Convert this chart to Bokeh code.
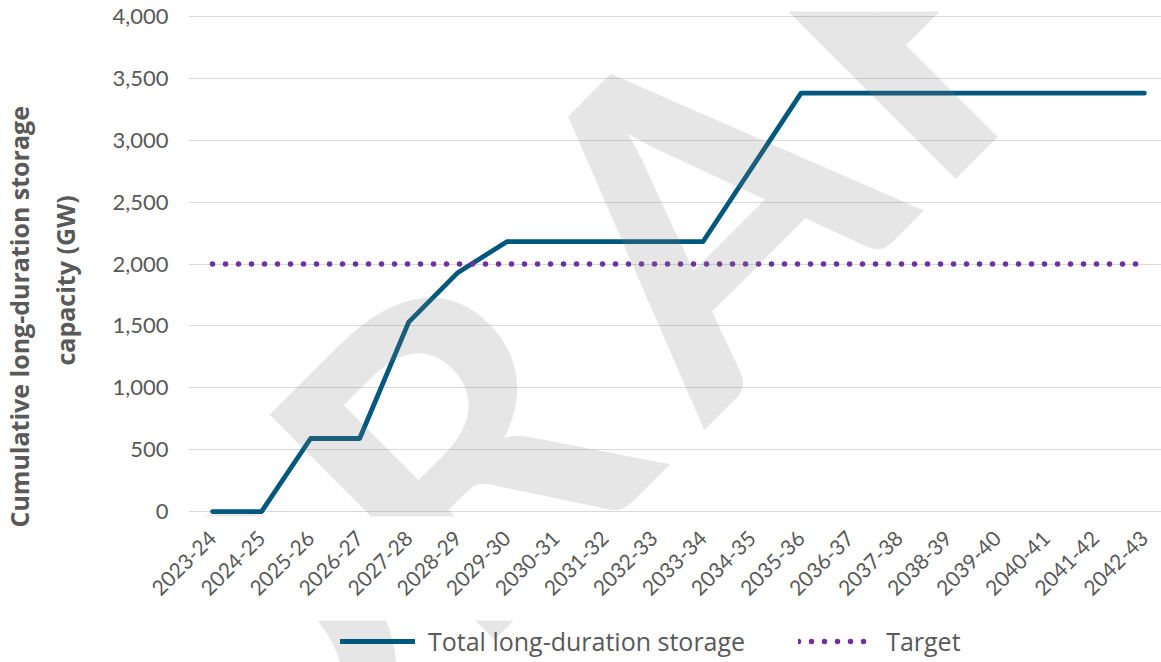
from math import pi, cos, sin
from bokeh.plotting import figure
from bokeh.layouts import column
from bokeh.models import Range1d, FixedTicker, Legend, LegendItem, Label, Title, NumeralTickFormatter
from bokeh.embed import file_html
from bokeh.resources import INLINE

categories = ["2023-24", "2024-25", "2025-26", "2026-27", "2027-28", "2028-29", "2029-30",
              "2030-31", "2031-32", "2032-33", "2033-34", "2034-35", "2035-36", "2036-37",
              "2037-38", "2038-39", "2039-40", "2040-41", "2041-42", "2042-43"]
total_storage = [0, 0, 590, 590, 1530, 1930, 2180, 2180, 2180, 2180, 2180, 2780, 3380, 3380,
                 3380, 3380, 3380, 3380, 3380, 3380]
target = [2000, 2000, 2000, 2000, 2000, 2000, 2000, 2000, 2000, 2000, 2000, 2000, 2000, 2000,
          2000, 2000, 2000, 2000, 2000, 2000]
y_ticks = [0, 500, 1000, 1500, 2000, 2500, 3000, 3500, 4000]
watermark_letters = ["D", "R", "A", "F", "T"]

xs = list(range(len(categories)))
GREY = "#595959"
FONT = "Lato"
BLUE = "#00587C"
PURPLE = "#7030A0"
X_RANGE = (-0.49, 19.35)

# watermark layout: letters placed along a 45-degree baseline (offsets in px along it)
WM_ANGLE = 0.785
WM_CENTER = (673, 220)          # px on the page
WM_STEPS = [-623, -317, 29, 318, 600]
PX_PER_X = 49.05
PX_PER_Y = 0.12375

def watermark(fig):
    for letter, s in zip(watermark_letters, WM_STEPS):
        px = WM_CENTER[0] + s * cos(WM_ANGLE)
        py = WM_CENTER[1] - s * sin(WM_ANGLE)
        fig.add_layout(Label(x=(px - 212) / PX_PER_X, y=(511 - py) / PX_PER_Y, text=letter,
                             angle=WM_ANGLE, text_align="center", text_baseline="middle",
                             text_font=FONT, text_font_style="bold", text_font_size="440px",
                             text_color="#808080", text_alpha=0.2))

p = figure(width=1161, height=620, output_backend="svg", toolbar_location=None,
           x_range=Range1d(*X_RANGE), y_range=Range1d(-40, 4040),
           min_border_left=188, min_border_right=0, min_border_top=11, min_border_bottom=104)
p.outline_line_color = None

r_total = p.line(xs, total_storage, line_color=BLUE, line_width=4.8,
                 line_cap="round", line_join="round")
r_target = p.line(xs, target, line_color=PURPLE, line_width=5.5,
                  line_dash="0 13", line_cap="round")

# y axis
p.yaxis.ticker = FixedTicker(ticks=y_ticks)
p.yaxis.formatter = NumeralTickFormatter(format="0,0")
p.yaxis.axis_line_color = None
p.yaxis.major_tick_line_color = None
p.yaxis.minor_tick_line_color = None
p.yaxis.major_label_standoff = 14
p.yaxis.major_label_text_font = FONT
p.yaxis.major_label_text_font_size = "22px"
p.yaxis.major_label_text_color = GREY

# x axis
p.xaxis.ticker = FixedTicker(ticks=xs)
p.xaxis.major_label_overrides = {i: c for i, c in zip(xs, categories)}
p.xaxis.major_label_orientation = pi / 4
p.xaxis.axis_line_color = None
p.xaxis.major_tick_line_color = None
p.xaxis.minor_tick_line_color = None
p.xaxis.major_label_standoff = 12
p.xaxis.major_label_text_font = FONT
p.xaxis.major_label_text_font_size = "21px"
p.xaxis.major_label_text_color = GREY

p.xgrid.visible = False
p.ygrid.grid_line_color = "#D9D9D9"
p.ygrid.grid_line_width = 1.2

# y-axis title (two lines)
t2 = Title(text="capacity (GW)", align="left", offset=151, standoff=56,
           text_font="Open Sans", text_font_style="bold", text_font_size="25px", text_color=GREY)
t1 = Title(text="Cumulative long-duration storage", align="left", offset=-11, standoff=-36,
           text_font="Open Sans", text_font_style="bold", text_font_size="25px", text_color=GREY)
p.add_layout(t2, "left")
p.add_layout(t1, "left")
watermark(p)

# legend strip (same x/y mapping continued below the main chart)
lg = figure(width=1161, height=42, output_backend="svg", toolbar_location=None,
            x_range=Range1d(*X_RANGE), y_range=Range1d(-1220.2, -880.8),
            x_axis_type=None, y_axis_type=None, min_border=0)
lg.outline_line_color = None
lg.grid.visible = False
l_total = lg.line(xs, total_storage, line_color=BLUE, line_width=4.8, line_cap="round")
l_target = lg.line(xs, target, line_color=PURPLE, line_width=5.5, line_dash="0 13",
                   line_cap="round")
legend = Legend(items=[LegendItem(label="Total long-duration storage", renderers=[l_total]),
                       LegendItem(label="Target", renderers=[l_target])],
                orientation="horizontal", location=(152, 4),
                label_text_font="Open Sans", label_text_font_size="25px", label_text_color=GREY,
                glyph_width=75, glyph_height=24, label_height=24, label_standoff=13, spacing=53,
                border_line_color=None, background_fill_color=None,
                padding=0, margin=0)
lg.add_layout(legend)
watermark(lg)

open("out.html", "w").write(file_html(column(p, lg, spacing=0), INLINE))
